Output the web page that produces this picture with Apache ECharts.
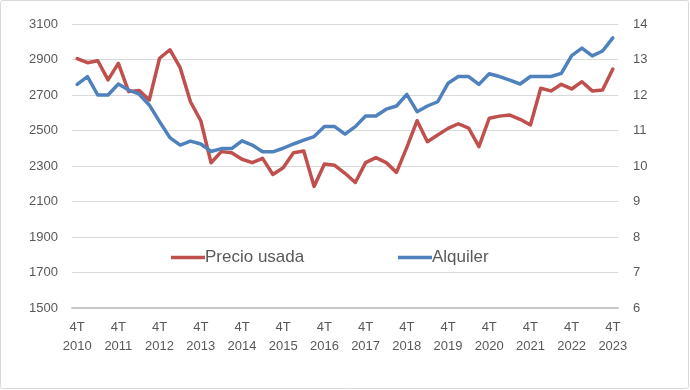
<!DOCTYPE html>
<html>
<head>
<meta charset="utf-8">
<script src="https://cdn.jsdelivr.net/npm/echarts@6/dist/echarts.min.js"></script>
<style>
html,body{margin:0;padding:0;background:#fff;}
#c{width:690px;height:390px;}
</style>
</head>
<body>
<div id="c"></div>
<script>
const categories = [
 "4T 2010",
 "1T 2011","2T 2011","3T 2011","4T 2011",
 "1T 2012","2T 2012","3T 2012","4T 2012",
 "1T 2013","2T 2013","3T 2013","4T 2013",
 "1T 2014","2T 2014","3T 2014","4T 2014",
 "1T 2015","2T 2015","3T 2015","4T 2015",
 "1T 2016","2T 2016","3T 2016","4T 2016",
 "1T 2017","2T 2017","3T 2017","4T 2017",
 "1T 2018","2T 2018","3T 2018","4T 2018",
 "1T 2019","2T 2019","3T 2019","4T 2019",
 "1T 2020","2T 2020","3T 2020","4T 2020",
 "1T 2021","2T 2021","3T 2021","4T 2021",
 "1T 2022","2T 2022","3T 2022","4T 2022",
 "1T 2023","2T 2023","3T 2023","4T 2023"
];
const precioUsada = [
 2905,
 2882, 2893, 2785, 2878,
 2719, 2726, 2672, 2907,
 2955, 2854, 2662, 2555,
 2318, 2381, 2375, 2338,
 2319, 2343, 2252, 2290,
 2375, 2384, 2185, 2311,
 2304, 2259, 2207, 2319,
 2347, 2319, 2264, 2405,
 2555, 2437, 2475, 2512,
 2538, 2514, 2409, 2569,
 2581, 2587, 2563, 2531,
 2738, 2723, 2760, 2734,
 2775, 2723, 2728, 2846
];
const alquiler = [
 12.30,
 12.52, 12.00, 12.00, 12.31,
 12.14, 12.03, 11.72, 11.25,
 10.80, 10.59, 10.70, 10.62,
 10.41, 10.49, 10.49, 10.71,
 10.59, 10.40, 10.40, 10.50,
 10.62, 10.73, 10.83, 11.11,
 11.11, 10.90, 11.11, 11.41,
 11.41, 11.60, 11.69, 12.02,
 11.53, 11.69, 11.81, 12.33,
 12.52, 12.52, 12.30, 12.60,
 12.52, 12.42, 12.31, 12.52,
 12.52, 12.52, 12.61, 13.11,
 13.32, 13.10, 13.24, 13.61
];
const leftTicks = {min: 1500, max: 3100, interval: 200};
const rightTicks = {min: 6, max: 14, interval: 1};

const chart = echarts.init(document.getElementById('c'), null, {renderer: 'canvas'});
const labelColor = '#595959';
const fontFam = '"Liberation Sans", Arial, sans-serif';
chart.setOption({
  animation: false,
  backgroundColor: '#ffffff',
  graphic: [{
    type: 'rect', silent: true,
    shape: {x: 0.5, y: 0.5, width: 688, height: 388, r: 2},
    style: {fill: 'none', stroke: '#d9d9d9', lineWidth: 1}
  }],
  grid: {left: 72, right: 72, top: 24, bottom: 82, containLabel: false},
  legend: [
    {data: ['Precio usada'], left: 166, top: 244, icon: 'rect', itemWidth: 34, itemHeight: 3.5,
     textStyle: {color: labelColor, fontSize: 17, fontFamily: fontFam, padding: [0, 0, 0, -5]}},
    {data: ['Alquiler'], left: 393, top: 244, icon: 'rect', itemWidth: 34, itemHeight: 3.5,
     textStyle: {color: labelColor, fontSize: 17, fontFamily: fontFam, padding: [0, 0, 0, -5]}}
  ],
  xAxis: {
    type: 'category',
    data: categories,
    boundaryGap: true,
    axisLine: {show: true, lineStyle: {color: '#c8c8c8', width: 2}},
    axisTick: {show: false},
    axisLabel: {
      interval: 3,
      color: labelColor, fontSize: 13, fontFamily: fontFam,
      lineHeight: 19, margin: 10,
      formatter: function (v) { const p = v.split(' '); return p[0] + '\n' + p[1]; }
    },
    splitLine: {show: false}
  },
  yAxis: [
    {
      type: 'value', position: 'left',
      min: leftTicks.min, max: leftTicks.max, interval: leftTicks.interval,
      axisLine: {show: false}, axisTick: {show: false},
      axisLabel: {color: labelColor, fontSize: 13, fontFamily: fontFam, margin: 14,
        formatter: function (v) { return String(v); }},
      splitLine: {show: true, lineStyle: {color: '#d9d9d9', width: 1}}
    },
    {
      type: 'value', position: 'right',
      min: rightTicks.min, max: rightTicks.max, interval: rightTicks.interval,
      axisLine: {show: false}, axisTick: {show: false},
      axisLabel: {color: labelColor, fontSize: 13, fontFamily: fontFam, margin: 15,
        formatter: function (v) { return String(v); }},
      splitLine: {show: false}
    }
  ],
  series: [
    {
      name: 'Precio usada', type: 'line', yAxisIndex: 0, data: precioUsada,
      symbol: 'none', smooth: false, color: '#C0504D',
      lineStyle: {color: '#C0504D', width: 3.5, cap: 'round', join: 'round'}
    },
    {
      name: 'Alquiler', type: 'line', yAxisIndex: 1, data: alquiler,
      symbol: 'none', smooth: false, color: '#4F81BD',
      lineStyle: {color: '#4F81BD', width: 3.5, cap: 'round', join: 'round'}
    }
  ]
});
</script>
</body>
</html>
